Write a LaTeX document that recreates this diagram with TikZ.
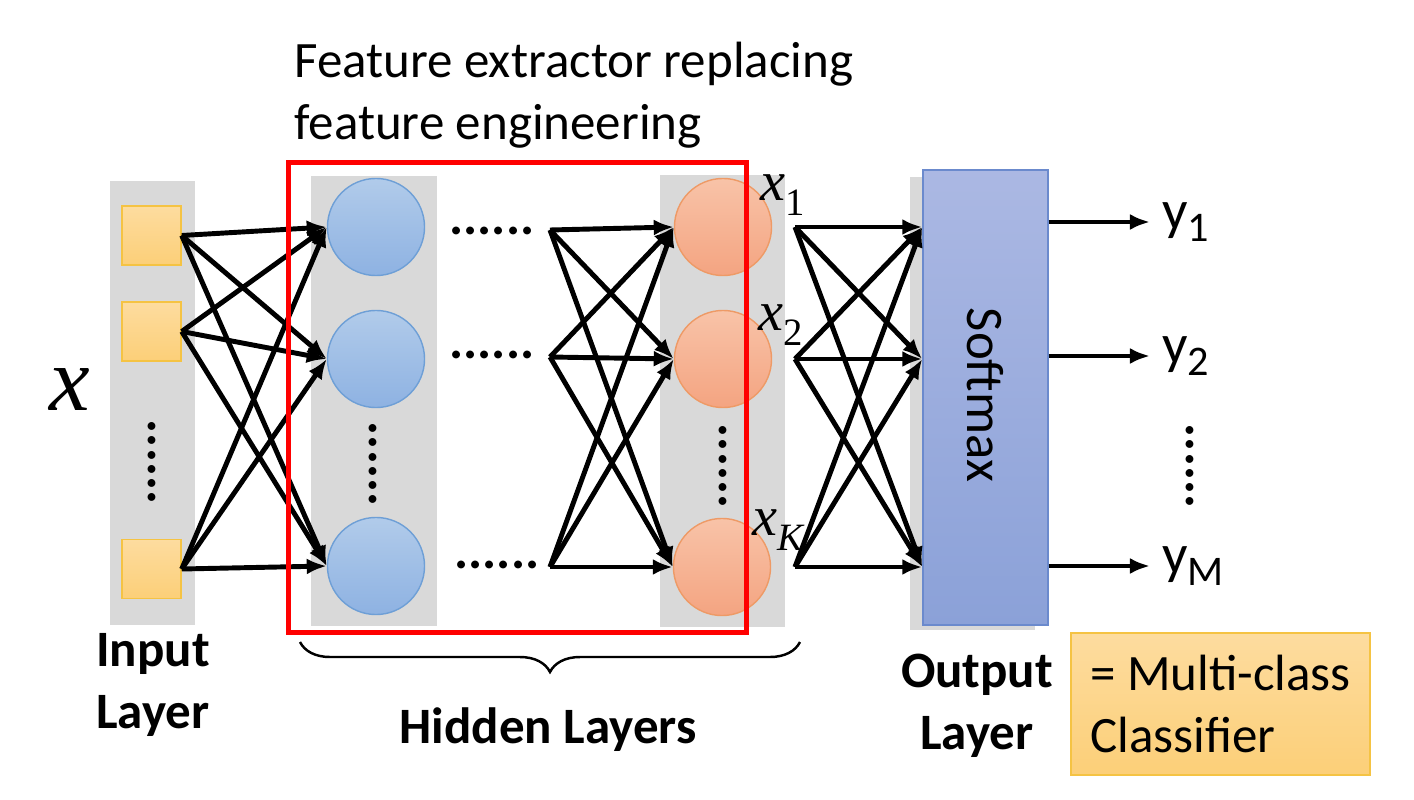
\documentclass[tikz,border=0pt]{standalone}
\usepackage{fontspec}
\setmainfont{Carlito}
\newfontfamily\tms{Liberation Serif}
\usetikzlibrary{arrows.meta,decorations.pathreplacing,positioning}

\definecolor{laneGray}{HTML}{D9D9D9}
\definecolor{inTop}{HTML}{FDDC9F}
\definecolor{inBot}{HTML}{FCCF78}
\definecolor{inEdge}{HTML}{F5C343}
\definecolor{hidTop}{HTML}{B1CBEA}
\definecolor{hidBot}{HTML}{8EB2E2}
\definecolor{hidEdge}{HTML}{6E9FD6}
\definecolor{lastTop}{HTML}{F8C3A8}
\definecolor{lastBot}{HTML}{F4A481}
\definecolor{lastEdge}{HTML}{EE9A66}
\definecolor{smTop}{HTML}{ABB8E3}
\definecolor{smBot}{HTML}{8BA1D8}
\definecolor{smEdge}{HTML}{6B8ACD}

\newcommand{\featsym}[2]{{\tms\itshape x}\raisebox{-0.55ex}{\fontsize{11}{11}\selectfont\tms #2#1}}
\newcommand{\outsym}[1]{y\raisebox{-0.45ex}{\fontsize{12}{12}\selectfont #1}}

\begin{document}
\begin{tikzpicture}[
    x=0.01cm, y=-0.01cm,
    lane/.style={fill=laneGray},
    inunit/.style={draw=inEdge, top color=inTop, bottom color=inBot, minimum size=0.59cm, inner sep=0pt},
    hidunit/.style={circle, draw=hidEdge, top color=hidTop, bottom color=hidBot, minimum size=0.97cm, inner sep=0pt},
    lastunit/.style={circle, draw=lastEdge, top color=lastTop, bottom color=lastBot, minimum size=0.97cm, inner sep=0pt},
    conn/.style={-{Latex[length=0.2cm,width=0.16cm]}, line width=1.4pt},
    dotsh/.style={font=\fontsize{15}{15}\selectfont\bfseries, inner sep=1pt},
    dotsv/.style={dotsh, rotate=90},
    caption/.style={font=\fontsize{14.5}{17.5}\selectfont\bfseries, align=center},
    txt/.style={font=\fontsize{14.5}{17.5}\selectfont, align=left},
    ylab/.style={font=\fontsize{16}{16}\selectfont, anchor=west},
    xlab/.style={font=\fontsize{16}{16}\selectfont, anchor=west, inner sep=0pt}
  ]
  \useasboundingbox (0,0) rectangle (1414,800);

  \fill[lane] (110,181) rectangle (195,625);
  \fill[lane] (311,176) rectangle (437,626);
  \fill[lane] (660,175) rectangle (785,627);
  \fill[lane] (910,177) rectangle (1035,630);

  \node (xin) at (70,390) {\fontsize{26}{26}\selectfont\tms\itshape x};

  \node[inunit] (in1) at (151.5,235.5) {};
  \node[inunit] (in2) at (151.5,331.5) {};
  \node[inunit] (in3) at (151.5,569) {};
  \node[dotsv] (vin) at (152,462) {......};

  \node[hidunit] (h1) at (376,227) {};
  \node[hidunit] (h2) at (376,359) {};
  \node[hidunit] (h3) at (376,566) {};
  \node[dotsv] (vh) at (373,464) {......};

  \node[dotsh] (dh1) at (492,231) {......};
  \node[dotsh] (dh2) at (492,355) {......};
  \node[dotsh] (dh3) at (497,565) {......};
  \coordinate (s1) at (550,230);
  \coordinate (s2) at (550,357);
  \coordinate (s3) at (550,567);

  \node[lastunit] (k1) at (723,227) {};
  \node[lastunit] (k2) at (723,359) {};
  \node[lastunit] (k3) at (722,567) {};
  \node[dotsv] (vk) at (723,466) {......};
  \node[xlab] (x1) at (760,195) {\featsym{1}{}};
  \node[xlab] (x2) at (758,325) {\featsym{2}{}};
  \node[xlab] (xK) at (752,530) {\featsym{K}{\itshape}};
  \coordinate (t1) at (795,227);
  \coordinate (t2) at (795,359);
  \coordinate (t3) at (795,567);

  \node[draw=smEdge, top color=smTop, bottom color=smBot, minimum width=1.25cm, minimum height=4.55cm, inner sep=0pt] (sm) at (985.5,397.5) {};
  \node[rotate=-90, font=\fontsize{15}{15}\selectfont] (smlab) at (985,395) {Softmax};

  \foreach \i in {1,2,3}
    \foreach \j in {1,2,3}
      \draw[conn] (in\i.east) -- (h\j.west);
  \foreach \i in {1,2,3}
    \foreach \j in {1,2,3}
      \draw[conn] (s\i) -- (k\j.west);
  \foreach \i in {1,2,3}
    \foreach \j in {1,2,3}
      \draw[conn] (t\i) -- (sm.west |- t\j);

  \node[ylab] (y1) at (1150,222) {\outsym{1}};
  \node[ylab] (y2) at (1150,356) {\outsym{2}};
  \node[ylab] (yM) at (1150,566) {\outsym{M}};
  \node[dotsv] (vy) at (1190,466) {......};
  \draw[conn] (sm.east |- y1.west) -- (y1.west);
  \draw[conn] (sm.east |- y2.west) -- (y2.west);
  \draw[conn] (sm.east |- yM.west) -- (yM.west);

  \node[draw=red, line width=0.05cm, minimum width=4.57cm, minimum height=4.69cm, inner sep=0pt] (fx) at (517.5,397.5) {};
  \node[txt, anchor=north west] (fxlab) at (282,30) {Feature extractor replacing\\feature engineering};

  \draw[line width=0.7pt, decorate, decoration={brace, mirror, amplitude=0.3cm}] (300,642) -- (800,642);

  \node[caption] (inlab) at (153,685) {Input\\Layer};
  \node[caption] (hidlab) at (548,730) {Hidden Layers};
  \node[caption] (outlab) at (977,706) {Output\\Layer};
  \node[draw=inEdge, top color=inTop, bottom color=inBot, minimum width=2.99cm, minimum height=1.42cm, align=left, font=\fontsize{14.5}{17.5}\selectfont] (cls) at (1220.5,704) {= Multi-class\\Classifier};
\end{tikzpicture}
\end{document}
